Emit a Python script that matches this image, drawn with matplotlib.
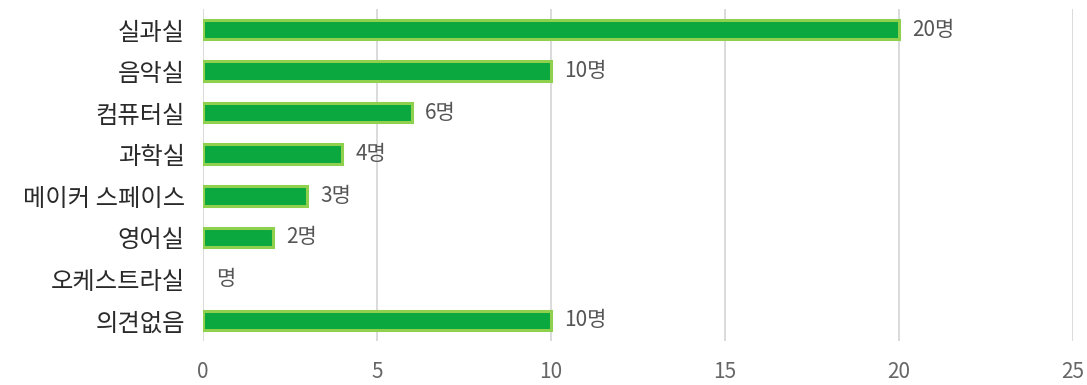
import matplotlib.pyplot as plt
import numpy as np

plt.rcParams['font.family'] = ['Noto Sans CJK KR', 'DejaVu Sans']

categories = ['실과실', '음악실', '컴퓨터실', '과학실', '메이커 스페이스', '영어실', '오케스트라실', '의견없음']
values = [20, 10, 6, 4, 3, 2, 0, 10]
value_labels = ['20명', '10명', '6명', '4명', '3명', '2명', '명', '10명']
x_ticks = [0, 5, 10, 15, 20, 25]

fig = plt.figure(figsize=(10.87, 3.85), dpi=100)
ax = fig.add_axes([0.1868, 0.114, 0.800, 0.863])

y = np.arange(len(categories))
widths = [2.2 if v > 0 else 0 for v in values]
ax.barh(y, values, height=0.47, color='#0aa83f', edgecolor='#8fd14f', linewidth=widths, zorder=3)

for yi, v, lab in zip(y, values, value_labels):
    ax.text(v + 0.38, yi, lab, va='center', ha='left', fontsize=15, color='#555555')

ax.set_yticks(y)
ax.set_yticklabels(categories, fontsize=17.5, color='#2a2a2a')
ax.set_ylim(len(categories) - 0.5, -0.5)
ax.set_xlim(0, 25)
ax.set_xticks(x_ticks)
ax.set_xticklabels([str(t) for t in x_ticks], fontsize=15, color='#666666')
ax.tick_params(axis='both', length=0)
ax.tick_params(axis='x', pad=14)
ax.tick_params(axis='y', pad=13)

ax.grid(axis='x', color='#d4d4d4', linewidth=1.2, zorder=0)
for s in ax.spines.values():
    s.set_visible(False)

fig.savefig('out.png', dpi=100)
